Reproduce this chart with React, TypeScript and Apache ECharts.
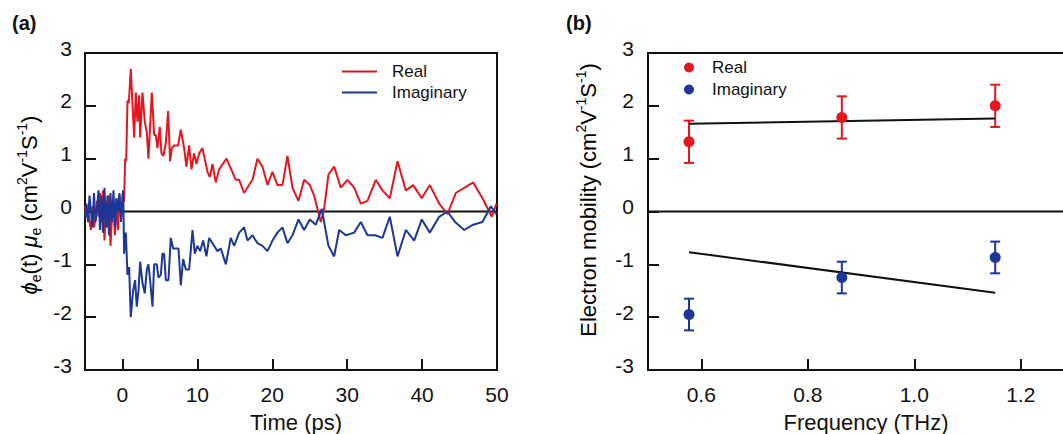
import React, { useEffect, useRef } from "react";
import * as echarts from "echarts";

// ---- Panel (a): time-domain mobility ----
const timeTicks = [0, 10, 20, 30, 40];
const timeLabels = [0, 10, 20, 30, 40, 50];
const yTicks = [-2, -1, 0, 1, 2];
const yLabels = [-3, -2, -1, 0, 1, 2, 3];

const realCurve: [number, number][] = [
  [-5, 0.1], [-4.8, -0.1], [-4.6, 0.05], [-4.4, -0.2], [-4.2, -0.35], [-4.0, 0.1], [-3.8, -0.3],
  [-3.6, -0.15], [-3.4, 0.2], [-3.2, -0.1], [-3.0, 0.35], [-2.8, -0.2], [-2.6, 0.4], [-2.4, -0.55],
  [-2.2, 0.1], [-2.0, -0.3], [-1.8, 0.3], [-1.6, -0.65], [-1.4, -0.1], [-1.2, 0.2], [-1.0, -0.45],
  [-0.8, 0.25], [-0.6, -0.35], [-0.4, 0.3], [-0.2, -0.1], [0.0, 0.15],
  [0.22, 0.2], [0.36, 1.0], [0.5, 0.95], [0.67, 2.1], [0.85, 2.05], [1.11, 2.7], [1.56, 1.4], [1.78, 2.25],
  [2.0, 1.7], [2.23, 2.2], [2.36, 1.4], [2.67, 2.25], [2.98, 1.7], [3.25, 1.5], [3.47, 1.0],
  [3.92, 2.25], [4.23, 1.45], [4.45, 1.45], [4.67, 1.2], [4.98, 1.6], [5.21, 1.1], [5.47, 1.05],
  [5.79, 1.3], [6.1, 1.9], [6.36, 0.95], [6.59, 1.2], [6.9, 1.25], [7.43, 1.25], [7.79, 1.55],
  [8.23, 1.2], [8.54, 0.85], [8.9, 1.25], [9.21, 0.8], [9.57, 1.1], [9.88, 0.9], [10.24, 1.1],
  [10.68, 1.2], [11.35, 0.75], [11.66, 0.65], [12.02, 0.9], [12.46, 0.55], [12.91, 0.8],
  [13.89, 1.0], [15.13, 0.6], [15.58, 0.6], [16.24, 0.35], [16.91, 0.5], [17.36, 0.6],
  [18.02, 1.0], [18.69, 0.85], [19.36, 0.5], [20.03, 0.75], [20.69, 0.5], [21.36, 0.5],
  [22.03, 1.05], [22.7, 0.45], [23.5, 0.2], [24.25, 0.6], [25.01, 0.5], [25.59, 0.3],
  [26.48, -0.2], [26.92, 0.05], [27.5, 0.7], [28.26, 0.85], [29.15, 0.45], [30.04, 0.6],
  [30.93, 0.45], [31.82, 0.15], [32.71, 0.2], [33.82, 0.6], [34.71, 0.4], [35.69, 0.25],
  [36.72, 0.95], [37.83, 0.4], [38.81, 0.5], [39.96, 0.25], [41.03, 0.5], [42.28, 0.15],
  [43.39, -0.05], [44.5, 0.35], [46.82, 0.55], [48.06, 0.25], [49.31, -0.1], [49.93, 0.15],
];

const imagCurve: [number, number][] = [
  [-5, -0.1], [-4.8, 0.15], [-4.6, -0.2], [-4.4, 0.3], [-4.2, 0.0], [-4.0, -0.3], [-3.8, 0.35],
  [-3.6, -0.2], [-3.4, 0.05], [-3.2, 0.4], [-3.0, -0.35], [-2.8, 0.3], [-2.6, -0.4], [-2.4, 0.45],
  [-2.2, -0.3], [-2.0, 0.3], [-1.8, -0.45], [-1.6, 0.35], [-1.4, -0.2], [-1.2, 0.4], [-1.0, -0.3],
  [-0.8, 0.25], [-0.6, 0.0], [-0.4, 0.35], [-0.2, -0.2], [0.0, 0.3], [0.1, 0.4],
  [0.22, -0.8], [0.45, -0.4], [0.67, -1.2], [0.89, -1.05], [1.11, -2.0], [1.42, -1.5],
  [1.69, -1.3], [1.91, -1.8], [2.14, -1.5], [2.36, -0.95], [2.67, -1.35], [2.98, -1.55],
  [3.25, -1.1], [3.47, -1.0], [3.69, -1.3], [4.01, -1.8], [4.23, -1.0], [4.58, -1.0],
  [4.81, -1.25], [5.12, -1.2], [5.34, -0.8], [5.56, -0.8], [5.79, -1.3], [6.14, -1.3],
  [6.45, -0.5], [6.76, -0.7], [7.12, -0.7], [7.48, -0.7], [7.79, -1.4], [8.1, -0.9],
  [8.46, -1.1], [8.9, -1.1], [9.35, -0.35], [9.66, -0.8], [10.01, -0.65], [10.37, -0.75],
  [10.77, -0.55], [11.21, -0.85], [11.57, -0.5], [12.02, -0.6], [12.68, -0.75], [13.13, -0.7],
  [13.8, -1.0], [14.46, -0.5], [14.91, -0.65], [15.58, -0.4], [16.24, -0.3], [16.69, -0.55],
  [17.36, -0.45], [18.02, -0.6], [18.69, -0.65], [19.36, -0.75], [20.03, -0.55], [20.69, -0.4],
  [21.36, -0.3], [22.03, -0.6], [22.7, -0.45], [23.5, -0.15], [24.25, -0.35], [25.01, -0.15],
  [25.81, -0.25], [26.61, 0.05], [27.5, -0.65], [28.26, -0.85], [28.93, -0.35], [29.82, -0.45],
  [30.93, -0.4], [31.82, -0.2], [32.71, -0.45], [33.73, -0.45], [34.71, -0.5], [35.69, -0.1],
  [36.72, -0.85], [37.83, -0.35], [38.94, -0.55], [39.96, -0.15], [41.03, -0.4], [42.28, -0.1],
  [43.39, 0.0], [44.41, -0.2], [45.62, -0.35], [46.82, -0.25], [48.06, -0.2], [49.18, 0.1],
  [49.93, -0.05],
];

// ---- Panel (b): mobility vs frequency ----
const freqTicks = [0.6, 0.8, 1.0, 1.2];
const freqs = [0.577, 0.864, 1.152];
const realMobility = [1.32, 1.78, 2.0];
const realError = [0.4, 0.4, 0.4];
const imagMobility = [-1.95, -1.25, -0.87];
const imagError = [0.3, 0.3, 0.3];
const realFit: [number, number][] = [[0.577, 1.66], [1.152, 1.76]];
const imagFit: [number, number][] = [[0.577, -0.77], [1.152, -1.54]];

const RED = "#e4161f";
const BLUE = "#1c3797";
const INK = "#111";
const FONT = "'Liberation Sans', Arial, sans-serif";

function errorSeries(name: string, color: string, values: number[], errs: number[], axisIndex: number) {
  return {
    type: "custom",
    name,
    xAxisIndex: axisIndex,
    yAxisIndex: axisIndex,
    dimensions: ["x", "lo", "hi"],
    encode: { x: 0, y: [1, 2] },
    data: freqs.map((f, i) => [f, values[i] - errs[i], values[i] + errs[i]]),
    z: 3,
    renderItem: (params: any, api: any) => {
      const x = api.value(0);
      const top = api.coord([x, api.value(2)]);
      const bot = api.coord([x, api.value(1)]);
      const hw = 5;
      const st = { stroke: color, lineWidth: 2 };
      return {
        type: "group",
        children: [
          { type: "line", shape: { x1: top[0], y1: top[1], x2: bot[0], y2: bot[1] }, style: st },
          { type: "line", shape: { x1: top[0] - hw, y1: top[1], x2: top[0] + hw, y2: top[1] }, style: st },
          { type: "line", shape: { x1: bot[0] - hw, y1: bot[1], x2: bot[0] + hw, y2: bot[1] }, style: st },
        ],
      };
    },
  };
}

const richTitle = {
  n: { fontSize: 22, fontFamily: FONT, color: INK, lineHeight: 28 },
  i: { fontSize: 22, fontFamily: FONT, color: INK, fontStyle: "italic", lineHeight: 28 },
  sup: { fontSize: 14, fontFamily: FONT, color: INK, verticalAlign: "top", lineHeight: 16 },
  sub: { fontSize: 14, fontFamily: FONT, color: INK, verticalAlign: "bottom", lineHeight: 14 },
};

export default function App() {
  const ref = useRef<HTMLDivElement>(null);
  useEffect(() => {
    document.body.style.margin = "0";
    if (!ref.current) return;
    const chart = echarts.init(ref.current, null, { renderer: "svg" });

    const axisCommon = {
      axisLine: { show: true, onZero: false, lineStyle: { color: INK, width: 2 } },
      splitLine: { show: false },
    };
    const xLabel = { color: INK, fontSize: 21, fontFamily: FONT, margin: 14 };
    const yLabel = { color: INK, fontSize: 21, fontFamily: FONT, margin: 13, verticalAlign: "bottom", lineHeight: 10 };
    const tick = { show: true, inside: true, length: 11, lineStyle: { color: INK, width: 2 } };

    chart.setOption({
      animation: false,
      backgroundColor: "#fff",
      grid: [
        { left: 85, top: 53, width: 412, height: 317, show: true, borderColor: INK, borderWidth: 2, outerBoundsMode: "none" },
        { left: 648, top: 53, width: 426, height: 317, show: true, borderColor: INK, borderWidth: 2, outerBoundsMode: "none" },
      ],
      xAxis: [
        {
          gridIndex: 0, type: "value", min: -5, max: 50, ...axisCommon,
          axisTick: { ...tick, customValues: timeTicks },
          axisLabel: { ...xLabel, customValues: timeLabels },
        },
        {
          gridIndex: 1, type: "value", min: 0.5, max: 1.3, ...axisCommon,
          axisTick: { ...tick, customValues: freqTicks },
          axisLabel: { ...xLabel, customValues: freqTicks, formatter: (v: number) => v.toFixed(1) },
        },
      ],
      yAxis: [
        {
          gridIndex: 0, type: "value", min: -3, max: 3, ...axisCommon,
          axisTick: { ...tick, customValues: yTicks },
          axisLabel: { ...yLabel, customValues: yLabels },
        },
        {
          gridIndex: 1, type: "value", min: -3, max: 3, ...axisCommon,
          axisTick: { ...tick, customValues: yTicks },
          axisLabel: { ...yLabel, margin: 14, customValues: yLabels },
        },
      ],
      legend: [
        {
          data: [
            { name: "Real", icon: "rect" },
            { name: "Imaginary", icon: "rect" },
          ],
          orient: "vertical", left: 337, top: 58,
          itemWidth: 35, itemHeight: 2, itemGap: 4, selectedMode: false,
          textStyle: { color: INK, fontSize: 17, fontFamily: FONT, padding: [0, 0, 0, 10] },
        },
        {
          data: ["Real-b", "Imaginary-b"], orient: "vertical", left: 679, top: 54,
          icon: "circle", itemWidth: 10, itemHeight: 10, itemGap: 5, selectedMode: false,
          formatter: (n: string) => n.replace("-b", ""),
          textStyle: { color: INK, fontSize: 17, fontFamily: FONT, padding: [0, 0, 0, 13] },
        },
      ],
      graphic: [
        { type: "text", left: 12, top: 13, style: { text: "(a)", font: `bold 20px ${FONT}`, fill: INK } },
        { type: "text", left: 566, top: 13, style: { text: "(b)", font: `bold 20px ${FONT}`, fill: INK } },
        {
          type: "text", x: 296, y: 433,
          style: { text: "Time (ps)", font: `22px ${FONT}`, fill: INK, align: "center", verticalAlign: "bottom" },
        },
        {
          type: "text", x: 866, y: 433,
          style: { text: "Frequency (THz)", font: `22px ${FONT}`, fill: INK, align: "center", verticalAlign: "bottom" },
        },
        {
          type: "text", x: 29, y: 205, rotation: Math.PI / 2,
          style: {
            text: "{i|ϕ}{sub|e}{n|(t) }{i|μ}{sub|e}{n| (cm}{sup|2}{n|V}{sup|-1}{n|S}{sup|-1}{n|)}",
            rich: richTitle, align: "center", verticalAlign: "middle",
          },
        },
        {
          type: "text", x: 588, y: 200, rotation: Math.PI / 2,
          style: {
            text: "{n|Electron mobility (cm}{sup|2}{n|V}{sup|-1}{n|S}{sup|-1}{n|)}",
            rich: richTitle, align: "center", verticalAlign: "middle",
          },
        },
      ],
      series: [
        {
          type: "line", xAxisIndex: 0, yAxisIndex: 0, data: [[-5, 0], [50, 0]], symbol: "none",
          lineStyle: { color: INK, width: 2 }, z: 1, silent: true,
        },
        {
          name: "Real", type: "line", xAxisIndex: 0, yAxisIndex: 0, data: realCurve, symbol: "none",
          color: RED, itemStyle: { color: RED }, lineStyle: { color: RED, width: 2 }, z: 3,
        },
        {
          name: "Imaginary", type: "line", xAxisIndex: 0, yAxisIndex: 0, data: imagCurve, symbol: "none",
          color: BLUE, itemStyle: { color: BLUE }, lineStyle: { color: BLUE, width: 2 }, z: 4,
        },
        {
          type: "line", xAxisIndex: 1, yAxisIndex: 1, data: [[0.5, 0], [1.3, 0]], symbol: "none",
          lineStyle: { color: INK, width: 2 }, z: 1, silent: true,
        },
        {
          type: "line", xAxisIndex: 1, yAxisIndex: 1, data: realFit, symbol: "none",
          lineStyle: { color: INK, width: 2 }, z: 5,
        },
        {
          type: "line", xAxisIndex: 1, yAxisIndex: 1, data: imagFit, symbol: "none",
          lineStyle: { color: INK, width: 2 }, z: 5,
        },
        errorSeries("Real-err", RED, realMobility, realError, 1),
        errorSeries("Imag-err", BLUE, imagMobility, imagError, 1),
        {
          name: "Real-b", type: "scatter", xAxisIndex: 1, yAxisIndex: 1,
          data: freqs.map((f, i) => [f, realMobility[i]]), symbol: "circle", symbolSize: 11,
          itemStyle: { color: RED, opacity: 1 }, z: 6,
        },
        {
          name: "Imaginary-b", type: "scatter", xAxisIndex: 1, yAxisIndex: 1,
          data: freqs.map((f, i) => [f, imagMobility[i]]), symbol: "circle", symbolSize: 11,
          itemStyle: { color: BLUE, opacity: 1 }, z: 6,
        },
      ],
    });
    return () => chart.dispose();
  }, []);
  return <div ref={ref} style={{ width: 1063, height: 434 }} />;
}
